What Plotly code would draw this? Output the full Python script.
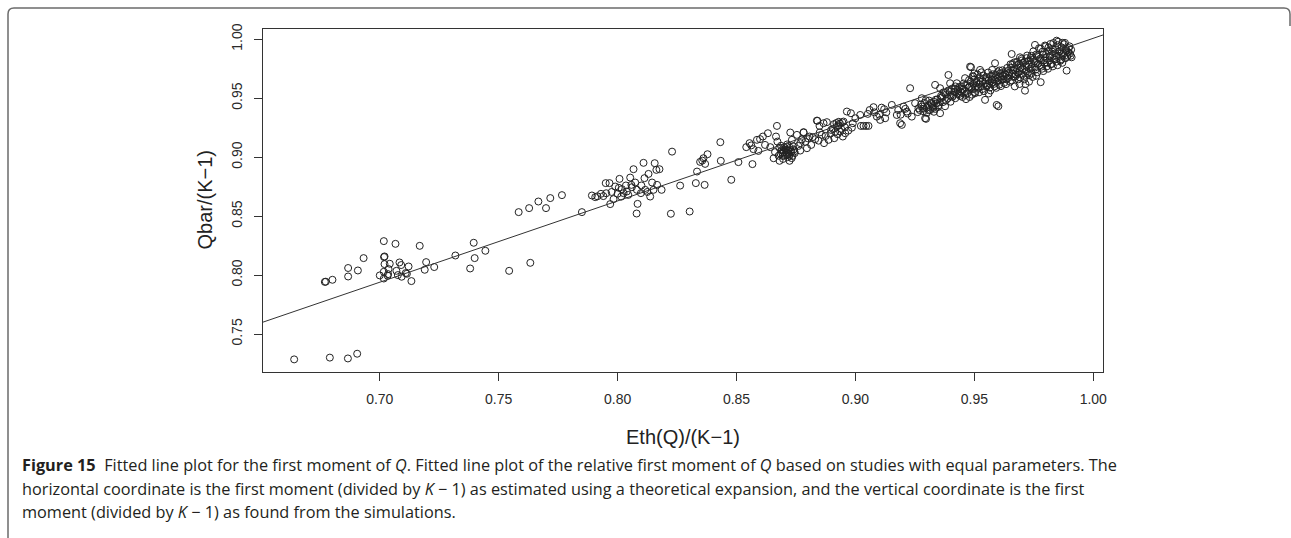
import plotly.graph_objects as go

# ---- data ----
points = [
    (0.664, 0.7285), (0.679, 0.730), (0.6866, 0.7293), (0.6905, 0.7333),
    (0.6769, 0.7942), (0.6773, 0.7944), (0.6801, 0.796), (0.6867, 0.806), (0.6867, 0.7988),
    (0.6908, 0.8039), (0.6932, 0.8144), (0.700, 0.7997), (0.7017, 0.8288), (0.7018, 0.8153),
    (0.7020, 0.8158), (0.702, 0.8093), (0.7017, 0.8028), (0.7017, 0.7971), (0.7035, 0.8008),
    (0.7033, 0.7995), (0.7042, 0.8096), (0.7037, 0.8051), (0.7066, 0.8265), (0.707, 0.8036),
    (0.7076, 0.800), (0.7083, 0.8107), (0.709, 0.8085), (0.7092, 0.7986), (0.7109, 0.8017),
    (0.7114, 0.8011), (0.7121, 0.8073), (0.7133, 0.7949), (0.7168, 0.8248), (0.7195, 0.811),
    (0.7189, 0.8045), (0.7229, 0.8068), (0.7318, 0.8166), (0.738, 0.8056), (0.7395, 0.8274),
    (0.7399, 0.8144), (0.7444, 0.8206), (0.7544, 0.8036), (0.7633, 0.8104),
    (0.7584, 0.8534), (0.7628, 0.8568), (0.7667, 0.8624), (0.7699, 0.8568), (0.7717, 0.8653),
    (0.7766, 0.8678), (0.785, 0.8534),
    (0.7892, 0.8675), (0.7906, 0.8661), (0.7915, 0.8668), (0.793, 0.8689), (0.795, 0.878),
    (0.7952, 0.8694), (0.7966, 0.878), (0.7969, 0.8602), (0.7983, 0.8644), (0.799, 0.8751),
    (0.8008, 0.8816), (0.8018, 0.8729), (0.8025, 0.8695), (0.8039, 0.8709), (0.8053, 0.8827),
    (0.8058, 0.8765), (0.8067, 0.8898), (0.8074, 0.8785), (0.8081, 0.8723), (0.8084, 0.8604),
    (0.808, 0.8522), (0.8098, 0.8695), (0.8109, 0.8952), (0.8113, 0.8822), (0.8116, 0.8723),
    (0.813, 0.8858), (0.8137, 0.8666), (0.8145, 0.8785), (0.8151, 0.8723), (0.8156, 0.8949),
    (0.8163, 0.8892), (0.8166, 0.8765), (0.8176, 0.8898), (0.8185, 0.8723),
    (0.7975, 0.8705), (0.800, 0.8690), (0.8005, 0.8740), (0.8045, 0.8680), (0.806, 0.8745),
    (0.8035, 0.8760), (0.810, 0.8760), (0.8125, 0.8705), (0.8015, 0.8665), (0.7940, 0.8670),
    (0.8229, 0.9047), (0.8224, 0.852), (0.8263, 0.8759), (0.8303, 0.8539), (0.8329, 0.878),
    (0.8334, 0.8878), (0.8347, 0.896),
    (0.8366, 0.8765), (0.8356, 0.8971), (0.8361, 0.8991), (0.8378, 0.9025), (0.8368, 0.8943),
    (0.8434, 0.8969), (0.8432, 0.9127), (0.8478, 0.8808), (0.8508, 0.8958), (0.8567, 0.8941),
    (0.8541, 0.9085), (0.8555, 0.9119), (0.8562, 0.9100), (0.8571, 0.9068), (0.8586, 0.9147),
    (0.8592, 0.9053), (0.8599, 0.9153), (0.8611, 0.9175), (0.8632, 0.9203), (0.862, 0.9104),
    (0.8642, 0.9085), (0.8656, 0.8991), (0.8666, 0.9175), (0.867, 0.9265), (0.8672, 0.9132),
    (0.8681, 0.8969), (0.8697, 0.9056), (0.8712, 0.909), (0.8712, 0.902), (0.8723, 0.8969),
    (0.8726, 0.9209), (0.8733, 0.9147),
    (0.8685, 0.9030), (0.8690, 0.9060), (0.8695, 0.9010), (0.8700, 0.9045), (0.8705, 0.9075),
    (0.8710, 0.9040), (0.8718, 0.9055), (0.8720, 0.9030), (0.8725, 0.9080), (0.8730, 0.9045),
    (0.8735, 0.9010), (0.8700, 0.9085), (0.8740, 0.9065), (0.8680, 0.9080), (0.8715, 0.9000),
    (0.8745, 0.9035),
    (0.8662, 0.9043), (0.8677, 0.9012), (0.8687, 0.9097), (0.8693, 0.9038), (0.8703, 0.9018),
    (0.8708, 0.9062), (0.8713, 0.9108), (0.8722, 0.9012), (0.8728, 0.9058), (0.8738, 0.9092),
    (0.8743, 0.9049), (0.8696, 0.8985), (0.8732, 0.8992),
    (0.8754, 0.9189), (0.8768, 0.9119), (0.8782, 0.9209), (0.8796, 0.9076), (0.8807, 0.9175),
    (0.8814, 0.9104), (0.8831, 0.9153), (0.884, 0.9308), (0.8849, 0.9265), (0.8859, 0.9189),
    (0.8866, 0.9288), (0.888, 0.9297), (0.8868, 0.9119), (0.8887, 0.9147), (0.8898, 0.9231),
    (0.8911, 0.9161), (0.8922, 0.9259), (0.8930, 0.9270), (0.8936, 0.9217), (0.895, 0.9302),
    (0.8947, 0.9175), (0.8957, 0.9203), (0.8964, 0.9387), (0.8981, 0.9373), (0.8989, 0.9288),
    (0.902, 0.9358), (0.9023, 0.9265), (0.9034, 0.9265), (0.9045, 0.9265), (0.9055, 0.9265),
    (0.9052, 0.9367), (0.8768, 0.9056), (0.8782, 0.9212), (0.8838, 0.931),
    (0.8775, 0.9150), (0.8790, 0.9130), (0.8820, 0.9170), (0.8845, 0.9140), (0.8850, 0.9210),
    (0.8875, 0.9180), (0.8895, 0.9200), (0.8905, 0.9240), (0.8915, 0.9215), (0.8925, 0.9195),
    (0.8940, 0.9240), (0.8955, 0.9255), (0.8970, 0.9225), (0.8985, 0.9250), (0.8760, 0.9095),
    (0.8800, 0.9160), (0.8910, 0.9280), (0.8920, 0.9290), (0.8930, 0.9300), (0.8935, 0.9285),
    (0.8945, 0.9295),
    (0.9000, 0.9330), (0.9060, 0.9400), (0.9080, 0.9380), (0.9100, 0.9360), (0.9110, 0.9420),
    (0.9130, 0.9380), (0.9180, 0.9400), (0.9190, 0.9360), (0.9210, 0.9410), (0.9220, 0.9370),
    (0.9076, 0.9424), (0.909, 0.9344), (0.9104, 0.9316), (0.9121, 0.9407), (0.9125, 0.933),
    (0.9153, 0.9443), (0.9174, 0.9358), (0.9188, 0.9288), (0.9195, 0.9274), (0.9202, 0.9429),
    (0.9216, 0.9387), (0.923, 0.9585), (0.9237, 0.9344), (0.9251, 0.9458), (0.9265, 0.9415),
    (0.9279, 0.950), (0.9293, 0.933), (0.9297, 0.9325),
    (0.9270, 0.9400), (0.9280, 0.9430), (0.9285, 0.9390), (0.9290, 0.9460), (0.9300, 0.9420),
    (0.9305, 0.9440), (0.9310, 0.9480), (0.9315, 0.9400), (0.9320, 0.9450), (0.9325, 0.9430),
    (0.9330, 0.9470), (0.9335, 0.9410), (0.9340, 0.9455), (0.9345, 0.9490), (0.9350, 0.9440),
    (0.9355, 0.9465), (0.9300, 0.9375), (0.9330, 0.9385),
    (0.9262, 0.9382), (0.9276, 0.9447), (0.9287, 0.9412), (0.9296, 0.9483), (0.9308, 0.9398),
    (0.9318, 0.9462), (0.9327, 0.9419), (0.9338, 0.9488), (0.9348, 0.9427), (0.9358, 0.9501),
    (0.9368, 0.9467), (0.9378, 0.9544), (0.9388, 0.9498), (0.9397, 0.9553), (0.9408, 0.9512),
    (0.9418, 0.9581), (0.9428, 0.9538), (0.9438, 0.9595), (0.9447, 0.9548),
    (0.9335, 0.9613), (0.9356, 0.9585), (0.9356, 0.9373), (0.9377, 0.9432), (0.9391, 0.9697),
    (0.9398, 0.9627), (0.9412, 0.9528), (0.9426, 0.9627), (0.944, 0.9556), (0.9461, 0.967),
    (0.9465, 0.9492), (0.9482, 0.9768), (0.9486, 0.9763), (0.9496, 0.9683), (0.9503, 0.9542),
    (0.9524, 0.974), (0.9545, 0.9486), (0.9594, 0.9443), (0.9601, 0.9432), (0.9587, 0.9797),
    (0.9365, 0.9510), (0.9370, 0.9550), (0.9380, 0.9530), (0.9390, 0.9565), (0.9400, 0.9520),
    (0.9405, 0.9580), (0.9415, 0.9555), (0.9420, 0.9600), (0.9430, 0.9570), (0.9435, 0.9535),
    (0.9445, 0.9600), (0.9450, 0.9580), (0.9455, 0.9625), (0.9460, 0.9560), (0.9470, 0.9610),
    (0.9475, 0.9590), (0.9360, 0.9520), (0.9380, 0.9480), (0.9400, 0.9470), (0.9420, 0.9500),
    (0.9440, 0.9520), (0.9450, 0.9510), (0.9470, 0.9540), (0.9480, 0.9510),
    (0.9480, 0.9600), (0.9485, 0.9640), (0.9490, 0.9575), (0.9495, 0.9620), (0.9500, 0.9660),
    (0.9505, 0.9600), (0.9510, 0.9640), (0.9515, 0.9580), (0.9520, 0.9620), (0.9525, 0.9670),
    (0.9530, 0.9600), (0.9535, 0.9645), (0.9540, 0.9560), (0.9545, 0.9625), (0.9550, 0.9680),
    (0.9555, 0.9610), (0.9560, 0.9650), (0.9565, 0.9590), (0.9570, 0.9690), (0.9575, 0.9630),
    (0.9580, 0.9660), (0.9585, 0.9600), (0.9590, 0.9700), (0.9595, 0.9640), (0.9600, 0.9675),
    (0.9605, 0.9615), (0.9610, 0.9710), (0.9615, 0.9655), (0.9620, 0.9690), (0.9625, 0.9630),
    (0.9500, 0.9710), (0.9530, 0.9720), (0.9560, 0.9540), (0.9490, 0.9530), (0.9520, 0.9550),
    (0.9575, 0.9740), (0.9605, 0.9735),
    (0.9452, 0.9571), (0.9463, 0.9528), (0.9478, 0.9655), (0.9487, 0.9592), (0.9493, 0.9688),
    (0.9502, 0.9551), (0.9508, 0.9627), (0.9513, 0.9701), (0.9518, 0.9594), (0.9527, 0.9638),
    (0.9533, 0.9577), (0.9538, 0.9692), (0.9547, 0.9653), (0.9552, 0.9598), (0.9558, 0.9718),
    (0.9563, 0.9627), (0.9568, 0.9566), (0.9572, 0.9661), (0.9578, 0.9703), (0.9583, 0.9622),
    (0.9588, 0.9677), (0.9592, 0.9588), (0.9598, 0.9721), (0.9603, 0.9652), (0.9608, 0.9683),
    (0.9612, 0.9603), (0.9618, 0.9737), (0.9622, 0.9664), (0.9628, 0.9712), (0.9633, 0.9619),
    (0.9638, 0.9757), (0.9642, 0.9672), (0.9648, 0.9718), (0.9652, 0.9788), (0.9658, 0.9651),
    (0.9663, 0.9739), (0.9668, 0.9804), (0.9672, 0.9683), (0.9678, 0.9751), (0.9682, 0.9716),
    (0.9688, 0.9792), (0.9693, 0.9675), (0.9698, 0.9834), (0.9702, 0.9748), (0.9708, 0.9689),
    (0.9712, 0.9811), (0.9718, 0.9727), (0.9722, 0.9862), (0.9727, 0.9783), (0.9732, 0.9698),
    (0.9737, 0.9841), (0.9742, 0.9765), (0.9748, 0.9897), (0.9752, 0.9813), (0.9757, 0.9742),
    (0.9762, 0.9858), (0.9767, 0.9791), (0.9772, 0.9924), (0.9777, 0.9836), (0.9782, 0.9768),
    (0.9787, 0.9895), (0.9792, 0.9822), (0.9797, 0.9947), (0.9802, 0.9873), (0.9807, 0.9801),
    (0.9812, 0.9931), (0.9817, 0.9858), (0.9822, 0.9789), (0.9827, 0.9896), (0.9832, 0.9968),
    (0.9837, 0.9827), (0.9842, 0.9913), (0.9847, 0.9852), (0.9852, 0.9979), (0.9857, 0.9894),
    (0.9862, 0.9818), (0.9867, 0.9931), (0.9872, 0.9866), (0.9877, 0.9958), (0.9882, 0.9838),
    (0.9887, 0.9901), (0.9892, 0.9862), (0.9897, 0.9925), (0.9902, 0.9878), (0.9907, 0.9911),
    (0.9630, 0.9700), (0.9635, 0.9660), (0.9640, 0.9730), (0.9645, 0.9690), (0.9650, 0.9640),
    (0.9655, 0.9760), (0.9657, 0.9875), (0.9660, 0.9710), (0.9665, 0.9680), (0.9670, 0.9740),
    (0.9675, 0.9700), (0.9680, 0.9780), (0.9685, 0.9660), (0.9690, 0.9730), (0.9692, 0.9847),
    (0.9695, 0.9760), (0.9700, 0.9700), (0.9705, 0.9800), (0.9710, 0.9740), (0.9713, 0.9564),
    (0.9715, 0.9620), (0.9720, 0.9770), (0.9725, 0.9710), (0.9730, 0.9820), (0.9735, 0.9750),
    (0.9740, 0.9790), (0.9745, 0.9680), (0.9750, 0.9830), (0.9755, 0.9952), (0.9755, 0.9760),
    (0.9760, 0.9800), (0.9765, 0.9720), (0.9770, 0.9850), (0.9775, 0.9780), (0.9779, 0.9636),
    (0.9780, 0.9820), (0.9785, 0.9750), (0.9790, 0.9870), (0.9795, 0.9800), (0.9800, 0.9840),
    (0.9805, 0.9770), (0.9810, 0.9900), (0.9815, 0.9820), (0.9820, 0.9860), (0.9825, 0.9790),
    (0.9830, 0.9920), (0.9835, 0.9840), (0.9840, 0.9880), (0.9845, 0.9810), (0.9846, 0.9988),
    (0.9850, 0.9950), (0.9855, 0.9860), (0.9860, 0.9900), (0.9865, 0.9830), (0.9870, 0.9970),
    (0.9875, 0.9880), (0.9881, 0.9969), (0.9885, 0.9920), (0.9888, 0.9734), (0.9890, 0.9850),
    (0.9895, 0.9890), (0.9900, 0.9940), (0.9905, 0.9860), (0.9909, 0.9847), (0.9800, 0.9940),
    (0.9820, 0.9960), (0.9780, 0.9920), (0.9760, 0.9870), (0.9740, 0.9860), (0.9720, 0.9840),
    (0.9700, 0.9820), (0.9680, 0.9810), (0.9660, 0.9790), (0.9740, 0.9710), (0.9760, 0.9690),
    (0.9790, 0.9730), (0.9810, 0.9750), (0.9830, 0.9770), (0.9850, 0.9780), (0.9870, 0.9800),
    (0.9670, 0.9600), (0.9690, 0.9620), (0.9710, 0.9660), (0.9730, 0.9640),
]
eth_q = [p[0] for p in points]
qbar = [p[1] for p in points]

fit_intercept = 0.3113
fit_slope = 0.6895

x_ticks = [0.70, 0.75, 0.80, 0.85, 0.90, 0.95, 1.00]
y_ticks = [0.75, 0.80, 0.85, 0.90, 0.95, 1.00]
x_range = [0.6509, 1.0041]
y_range = [0.7178, 1.0087]

caption_lines = [
    "<b>Figure 15</b>  Fitted line plot for the first moment of <i>Q</i>. Fitted line plot of the relative first moment of <i>Q</i> based on studies with equal parameters. The",
    "horizontal coordinate is the first moment (divided by <i>K</i> \u2212 1) as estimated using a theoretical expansion, and the vertical coordinate is the first",
    "moment (divided by <i>K</i> \u2212 1) as found from the simulations.",
]

# ---- layout geometry (pixels) ----
W, H = 1291, 538
L, R, T, B = 263, 1103, 29, 372
pw, ph = R - L, B - T


def px(x):
    return (x - L) / pw


def py(y):
    return (B - y) / ph


fig = go.Figure()
fig.add_trace(go.Scatter(
    x=eth_q, y=qbar, mode="markers",
    marker=dict(symbol="circle-open", size=7, color="#222222", line=dict(width=1, color="#222222")),
    hoverinfo="skip", showlegend=False,
))
line_x = [x_range[0] - 0.05, x_range[1] + 0.05]
fig.add_trace(go.Scatter(
    x=line_x, y=[fit_intercept + fit_slope * v for v in line_x], mode="lines",
    line=dict(color="#333333", width=1), hoverinfo="skip", showlegend=False,
))

axis_common = dict(
    showgrid=False, zeroline=False, showline=True, mirror=True, linecolor="#333333", linewidth=1,
    ticks="outside", ticklen=8, tickwidth=1, tickcolor="#333333",
    tickfont=dict(family="Liberation Sans, Arial, sans-serif", size=14, color="#2a2a2a"),
)
fig.update_xaxes(range=x_range, tickvals=x_ticks, ticktext=[f"{v:.2f}" for v in x_ticks],
                 ticklabelstandoff=6, **axis_common)
fig.update_yaxes(range=y_range, tickvals=y_ticks, ticktext=[f"{v:.2f}" for v in y_ticks],
                 tickangle=-90, ticklabelstandoff=6, **axis_common)

annotations = [
    dict(x=0.5, y=py(437), xref="paper", yref="paper", text="Eth(Q)/(K\u22121)", showarrow=False,
         xanchor="center", yanchor="middle",
         font=dict(family="Liberation Sans, Arial, sans-serif", size=20, color="#222222")),
    dict(x=px(204), y=0.5, xref="paper", yref="paper", text="Qbar/(K\u22121)", showarrow=False,
         textangle=-90, xanchor="center", yanchor="middle",
         font=dict(family="Liberation Sans, Arial, sans-serif", size=20, color="#222222")),
]
for txt, yy in zip(caption_lines, [465, 489, 512]):
    annotations.append(dict(
        x=px(20), y=py(yy), xref="paper", yref="paper", text=txt, showarrow=False,
        xanchor="left", yanchor="middle", align="left",
        font=dict(family="'Open Sans', sans-serif", size=16.3, color="#231f20"),
    ))

# outer frame (left side, top and rounded corners)
x0, x1, y0, yb = px(8), px(1290), py(8), py(540)
rx, ry = 6 / pw, 6 / ph
frame_path = (f"M {x0},{yb} L {x0},{y0 - ry} Q {x0},{y0} {x0 + rx},{y0} "
              f"L {x1 - rx},{y0} Q {x1},{y0} {x1},{y0 - ry} L {x1},{y0 - 3 * ry}")

fig.update_layout(
    width=W, height=H,
    margin=dict(l=L, r=W - R, t=T, b=H - B, pad=0),
    paper_bgcolor="white", plot_bgcolor="white",
    annotations=annotations,
    shapes=[dict(type="path", path=frame_path, xref="paper", yref="paper",
                 line=dict(color="#6b6b6b", width=1.5))],
    hovermode=False,
)

fig.write_html("out.html", config={"displayModeBar": False})
